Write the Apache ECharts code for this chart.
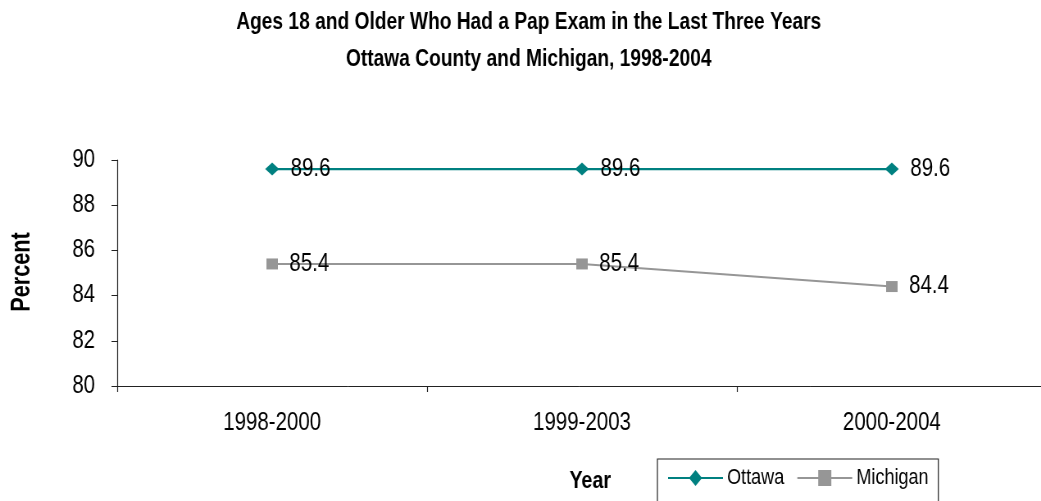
<!DOCTYPE html>
<html><head><meta charset="utf-8">
<script src="https://cdn.jsdelivr.net/npm/echarts@6/dist/echarts.min.js"></script>
<style>
html,body{margin:0;padding:0;background:#fff;overflow:hidden;width:1041px;height:501px}
/* The reference uses a narrow typeface; no narrow font is installed, so the
   chart is drawn wider and condensed horizontally. */
#c{width:1270px;height:501px;transform:scaleX(0.8197);transform-origin:0 0}
</style>
</head><body><div id="c"></div>
<script>
const categories = ['1998-2000', '1999-2003', '2000-2004'];
const ottawa = [89.6, 89.6, 89.6];
const michigan = [85.4, 85.4, 84.4];
const yTicks = { min: 80, max: 90, interval: 2 };

const K = 0.8197;
const FONT = '"Liberation Sans", Arial, sans-serif';
const chart = echarts.init(document.getElementById('c'));
chart.setOption({
  animation: false,
  textStyle: { fontFamily: FONT },
  title: {
    text: 'Ages 18 and Older Who Had a Pap Exam in the Last Three Years\nOttawa County and Michigan, 1998-2004',
    left: 640, textAlign: 'center', top: -1,
    textStyle: { fontFamily: FONT, fontSize: 23.4, fontWeight: 'bold', color: '#000', lineHeight: 37 }
  },
  graphic: [{
    type: 'text', x: 22.5 / K, y: 272, rotation: Math.PI / 2, scaleX: K, scaleY: 1 / K,
    style: { text: 'Percent', fontFamily: FONT, fontSize: 26.5, fontWeight: 'bold', fill: '#000',
             textAlign: 'center', textVerticalAlign: 'middle' }
  }],
  grid: { left: 143, top: 160, width: 1134, height: 226, containLabel: false, outerBoundsMode: 'none' },
  legend: {
    left: 802, top: 459,
    padding: [8, 12, 30, 12],
    itemGap: 15, itemWidth: 67, itemHeight: 20,
    borderColor: '#222', borderWidth: 1.2,
    textStyle: { fontFamily: FONT, fontSize: 22, color: '#000' },
    data: ['Ottawa', 'Michigan']
  },
  xAxis: {
    type: 'category', data: categories, boundaryGap: true,
    name: 'Year', nameLocation: 'middle', nameGap: 83,
    nameTextStyle: { fontFamily: FONT, fontSize: 24, fontWeight: 'bold', color: '#000', padding: [0, 0, 0, 20] },
    axisLine: { lineStyle: { color: '#222', width: 1 } },
    axisTick: { show: true, alignWithLabel: false, length: 6, inside: false, lineStyle: { color: '#222', width: 1.2 } },
    axisLabel: { fontFamily: FONT, fontSize: 25, color: '#000', margin: 25 },
    splitLine: { show: false }
  },
  yAxis: {
    type: 'value', min: yTicks.min, max: yTicks.max, interval: yTicks.interval,
    axisLine: { show: true, lineStyle: { color: '#222', width: 1.2 } },
    axisTick: { show: true, length: 7, lineStyle: { color: '#222' } },
    axisLabel: { fontFamily: FONT, fontSize: 25, color: '#000', margin: 27 },
    splitLine: { show: false }
  },
  series: [
    {
      name: 'Ottawa', type: 'line', data: ottawa,
      symbol: 'diamond', symbolSize: [17, 13],
      itemStyle: { color: '#008080' },
      lineStyle: { color: '#008080', width: 2.2 },
      label: { show: true, position: 'right', distance: 14, fontFamily: FONT, fontSize: 25, color: '#000', formatter: p => p.value.toFixed(1) },
      z: 3
    },
    {
      name: 'Michigan', type: 'line', data: michigan,
      symbol: 'rect', symbolSize: [14, 11],
      itemStyle: { color: '#969696' },
      lineStyle: { color: '#969696', width: 2 },
      label: { show: true, position: 'right', distance: 14, fontFamily: FONT, fontSize: 25, color: '#000', formatter: p => p.value.toFixed(1) },
      z: 2
    }
  ]
});
</script></body></html>
